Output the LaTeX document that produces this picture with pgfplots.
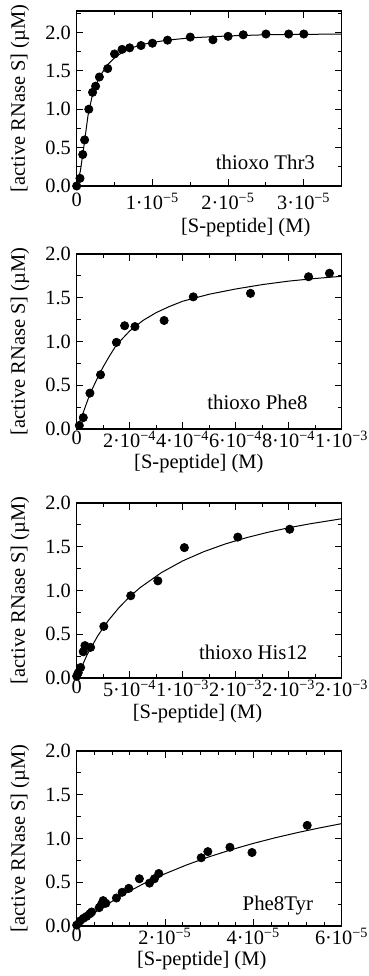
\documentclass[border=0pt]{standalone}
\usepackage{fontspec}
\setmainfont{Liberation Serif}
\usepackage{pgfplots}
\pgfplotsset{compat=1.18}

\newcommand{\sci}[2]{#1·10\textsuperscript{−#2}}

\tikzset{lab/.style={anchor=base east, font=\fontsize{12.5}{14}\selectfont}}
\pgfplotsset{
 panel/.style={
  scale only axis, width=159pt, height=105pt,
  anchor=south west,
  axis line style={line width=0.8pt},
  every tick/.style={black, line width=0.6pt},
  major tick length=4pt, minor tick length=2.4pt,
  tick align=inside,
  ymin=0, ymax=2,
  ytick={0,0.5,1,1.5,2}, yticklabels={0.0,0.5,1.0,1.5,2.0},
  minor ytick={0.25,0.75,1.25,1.75},
  tick label style={font=\fontsize{12.2}{14}\selectfont},
  xticklabel style={inner sep=1pt},
  label style={font=\fontsize{12.3}{14}\selectfont, inner sep=1pt},
  ylabel={[active RNase S] (µM)},
  xlabel={[S-peptide] (M)},
  ylabel style={at={(axis description cs:-0.214,0.5)}, anchor=center},
  clip=false,
  scaled x ticks=false,
 },
 pts/.style={only marks, mark=*, mark size=2.5pt, black},
 fit/.style={no marks, black, line width=0.6pt},
}

\begin{document}
\begin{tikzpicture}
\path[use as bounding box] (0,0) rectangle (220.8pt,585.6pt);

% Panel 1
\begin{axis}[panel, at={(46pt,474pt)}, xmin=0, xmax=3.5e-5, ymax=2.28,
  xtick={0,1e-5,2e-5,3e-5}, xticklabels={0,\sci{1}{5},\sci{2}{5},\sci{3}{5}},
  xticklabel style={yshift=-3pt},
  minor xtick={0.5e-5,1.5e-5,2.5e-5},
  minor ytick={0.25,0.75,1.25,1.75,2.25},
  xlabel style={at={(axis description cs:0.638,-0.235)}, anchor=center}]
\addplot[fit] table {
0 0
0.5e-6 0.20
1.0e-6 0.55
1.5e-6 0.92
2.0e-6 1.15
2.5e-6 1.30
3.0e-6 1.42
4.0e-6 1.57
5.0e-6 1.67
6.0e-6 1.74
7.0e-6 1.79
8.5e-6 1.84
1.0e-5 1.87
1.2e-5 1.90
1.5e-5 1.93
2.0e-5 1.955
2.5e-5 1.97
3.0e-5 1.975
3.5e-5 1.98
};
\addplot[pts] table {
0 0
4.4e-7 0.10
8e-7 0.41
1.05e-6 0.60
1.6e-6 1.00
2.1e-6 1.22
2.5e-6 1.30
3.0e-6 1.42
4.1e-6 1.53
5.0e-6 1.72
6.0e-6 1.78
7.0e-6 1.80
8.5e-6 1.83
1.0e-5 1.86
1.2e-5 1.90
1.5e-5 1.94
1.8e-5 1.905
2.0e-5 1.95
2.2e-5 1.97
2.5e-5 1.98
2.8e-5 1.98
3.0e-5 1.98
};
\node[lab] at (rel axis cs:0.921,0.095) {thioxo Thr3};
\end{axis}

% Panel 2
\begin{axis}[panel, at={(46pt,328.2pt)}, xmin=0, xmax=1e-3,
  xtick={0,2e-4,4e-4,6e-4,8e-4,1e-3},
  xticklabels={0,\sci{2}{4},\sci{4}{4},\sci{6}{4},\sci{8}{4},\sci{1}{3}},
  minor xtick={1e-4,3e-4,5e-4,7e-4,9e-4},
  xlabel style={at={(axis description cs:0.461,-0.195)}, anchor=center}]
\addplot[fit] table {
0 0
0.25e-4 0.19
0.5e-4 0.40
0.75e-4 0.56
1.0e-4 0.71
1.25e-4 0.84
1.5e-4 0.96
2.0e-4 1.12
2.5e-4 1.24
3.0e-4 1.33
3.5e-4 1.40
4.0e-4 1.46
5.0e-4 1.54
6.0e-4 1.60
7.0e-4 1.65
8.0e-4 1.69
9.0e-4 1.72
1.0e-3 1.745
};
\addplot[pts] table {
1e-5 0.04
2.5e-5 0.13
5e-5 0.41
9e-5 0.62
1.5e-4 0.99
1.81e-4 1.18
2.2e-4 1.17
3.3e-4 1.24
4.4e-4 1.51
6.56e-4 1.55
8.75e-4 1.74
9.54e-4 1.78
};
\node[lab] at (rel axis cs:0.893,0.113) {thioxo Phe8};
\end{axis}

% Panel 3
\begin{axis}[panel, at={(46pt,178.8pt)}, xmin=0, xmax=2.5e-3,
  xtick={0,5e-4,1e-3,1.5e-3,2e-3,2.5e-3},
  xticklabels={0,\sci{5}{4},\sci{1}{3},\sci{2}{3},\sci{2}{3},\sci{2}{3}},
  minor xtick={2.5e-4,7.5e-4,1.25e-3,1.75e-3,2.25e-3},
  xlabel style={at={(axis description cs:0.456,-0.205)}, anchor=center}]
\addplot[fit] table {
0 0
1e-4 0.269
2e-4 0.484
3e-4 0.659
4e-4 0.805
5e-4 0.929
6e-4 1.034
8e-4 1.205
1.0e-3 1.338
1.2e-3 1.444
1.4e-3 1.531
1.6e-3 1.603
1.8e-3 1.664
2.0e-3 1.717
2.2e-3 1.762
2.5e-3 1.820
};
\addplot[pts] table {
0 0.02
1.5e-5 0.06
3.7e-5 0.12
6.2e-5 0.30
7.8e-5 0.37
1.31e-4 0.35
2.56e-4 0.59
5.1e-4 0.94
7.66e-4 1.11
1.016e-3 1.49
1.52e-3 1.61
2.01e-3 1.70
};
\node[lab] at (rel axis cs:0.893,0.103) {thioxo His12};
\end{axis}

% Panel 4
\begin{axis}[panel, at={(46pt,30pt)}, xmin=0, xmax=6e-5,
  xtick={0,2e-5,4e-5,6e-5},
  xticklabels={0,\sci{2}{5},\sci{4}{5},\sci{6}{5}},
  minor xtick={0.4e-5,0.8e-5,1.2e-5,1.6e-5,2.4e-5,2.8e-5,3.2e-5,3.6e-5,4.4e-5,4.8e-5,5.2e-5,5.6e-5},
  xlabel style={at={(axis description cs:0.472,-0.195)}, anchor=center}]
\addplot[fit] table {
0 0
0.5e-5 0.1865
1.0e-5 0.3445
1.5e-5 0.480
2.0e-5 0.597
2.5e-5 0.700
3.0e-5 0.791
3.5e-5 0.8715
4.0e-5 0.944
4.5e-5 1.009
5.0e-5 1.0675
5.5e-5 1.121
6.0e-5 1.170
};
\addplot[pts] table {
0 0.01
0.075e-5 0.057
0.15e-5 0.087
0.225e-5 0.11
0.30e-5 0.14
0.34e-5 0.16
0.51e-5 0.21
0.56e-5 0.245
0.60e-5 0.29
0.66e-5 0.26
0.90e-5 0.32
1.03e-5 0.385
1.18e-5 0.43
1.42e-5 0.54
1.65e-5 0.49
1.76e-5 0.54
1.86e-5 0.60
2.82e-5 0.78
2.97e-5 0.85
3.47e-5 0.90
3.97e-5 0.84
5.22e-5 1.15
};
\node[lab] at (rel axis cs:0.914,0.091) {Phe8Tyr};
\end{axis}
\end{tikzpicture}
\end{document}
